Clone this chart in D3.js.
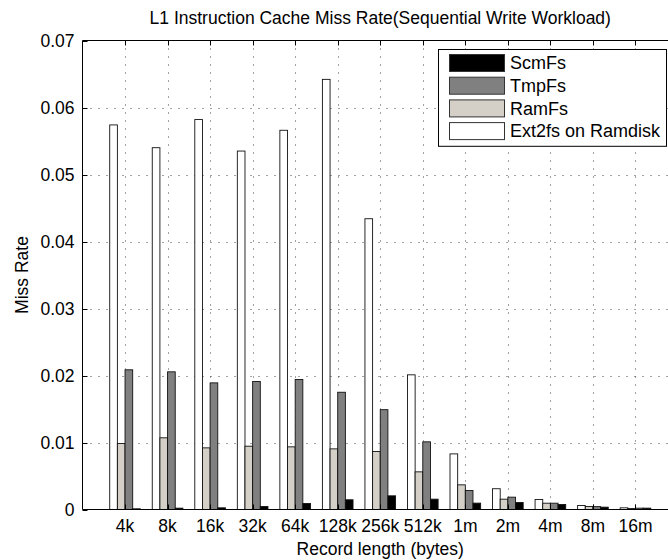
<!DOCTYPE html>
<html><head><meta charset="utf-8">
<script src="https://cdn.jsdelivr.net/npm/d3@7"></script>
<style>body{margin:0;background:#fff}svg{display:block}text{font-family:"Liberation Sans",Arial,sans-serif;fill:#000}</style>
</head><body><svg id="c" width="668" height="560"></svg>
<script>
const categories = ["4k","8k","16k","32k","64k","128k","256k","512k","1m","2m","4m","8m","16m"];
const seriesNames = ["Ext2fs on Ramdisk","RamFs","TmpFs","ScmFs"];
const ext2fs = [0.0574,0.0540,0.0582,0.0535,0.0566,0.0642,0.0434,0.0201,0.0083,0.0031,0.00149,0.00060,0.00025];
const ramfs  = [0.00985,0.0107,0.0092,0.00945,0.00935,0.00905,0.00866,0.00562,0.00368,0.00154,0.00094,0.00045,0.00015];
const tmpfs  = [0.02085,0.02055,0.0189,0.0191,0.0194,0.0175,0.0149,0.0101,0.00283,0.00184,0.00094,0.00043,0.00020];
const scmfs  = [0.0001,0.0002,0.00025,0.00045,0.0009,0.00145,0.00204,0.00154,0.00095,0.00104,0.00075,0.00035,0.00020];
const yTicks = [0,0.01,0.02,0.03,0.04,0.05,0.06,0.07];
const legendOrder = ["ScmFs","TmpFs","RamFs","Ext2fs on Ramdisk"];
const colors = {"ScmFs":"#000000","TmpFs":"#808080","RamFs":"#d4d0c8","Ext2fs on Ramdisk":"#ffffff"};
const seriesData = [ext2fs, ramfs, tmpfs, scmfs];

const svg = d3.select("#c");
const L = 82.5, R = 678, T = 40.5, B = 509.5;
const x = d3.scaleLinear().domain([0, 14]).range([L, R]);
const y = d3.scaleLinear().domain([0, 0.07]).range([B, T]);
const FS = 17.5;
const grid = "#444";

// grid
const g = svg.append("g");
g.selectAll("line.gy").data(yTicks.slice(1, -1)).join("line")
  .attr("x1", L).attr("x2", R).attr("y1", d => Math.round(y(d)) + 0.5).attr("y2", d => Math.round(y(d)) + 0.5)
  .attr("stroke", grid).attr("stroke-width", 1).attr("stroke-dasharray", "1,7");
g.selectAll("line.gx").data(categories).join("line")
  .attr("x1", (d, i) => Math.round(x(i + 1)) + 0.5).attr("x2", (d, i) => Math.round(x(i + 1)) + 0.5)
  .attr("y1", T).attr("y2", B)
  .attr("stroke", grid).attr("stroke-width", 1).attr("stroke-dasharray", "1,7");

// bars
const bw = 0.18;
seriesData.forEach((vals, s) => {
  const name = seriesNames[s];
  svg.append("g").selectAll("rect").data(vals).join("rect")
    .attr("x", (d, i) => x(i + 1 + (s - 1.5) * bw - bw / 2))
    .attr("width", x(bw) - x(0))
    .attr("y", d => y(d))
    .attr("height", d => y(0) - y(d))
    .attr("fill", colors[name])
    .attr("stroke", "#111").attr("stroke-width", 0.9);
});

// axes frame
const ax = svg.append("g");
ax.append("line").attr("x1", L).attr("x2", R).attr("y1", T).attr("y2", T).attr("stroke", "#000");
ax.append("line").attr("x1", L).attr("x2", R).attr("y1", B).attr("y2", B).attr("stroke", "#000");
ax.append("line").attr("x1", L).attr("x2", L).attr("y1", T).attr("y2", B).attr("stroke", "#000");

// ticks
const tl = 5;
ax.selectAll("line.tyl").data(yTicks).join("line")
  .attr("x1", L).attr("x2", L + tl).attr("y1", d => Math.round(y(d)) + 0.5).attr("y2", d => Math.round(y(d)) + 0.5).attr("stroke", "#000");
categories.forEach((c, i) => {
  const xx = Math.round(x(i + 1)) + 0.5;
  ax.append("line").attr("x1", xx).attr("x2", xx).attr("y1", T).attr("y2", T + tl).attr("stroke", "#000");
  ax.append("line").attr("x1", xx).attr("x2", xx).attr("y1", B).attr("y2", B - tl).attr("stroke", "#000");
});

// tick labels
ax.selectAll("text.yl").data(yTicks).join("text")
  .attr("x", L - 8).attr("y", d => y(d)).attr("dy", "0.35em")
  .attr("text-anchor", "end").attr("font-size", FS)
  .text(d => d === 0 ? "0" : d3.format(".2f")(d));
ax.selectAll("text.xl").data(categories).join("text")
  .attr("x", (d, i) => x(i + 1)).attr("y", B + 22)
  .attr("text-anchor", "middle").attr("font-size", FS)
  .text(d => d);

// labels
svg.append("text").attr("x", (L + R) / 2).attr("y", 555).attr("text-anchor", "middle").attr("font-size", FS).text("Record length (bytes)");
svg.append("text").attr("transform", `translate(28,${(T + B) / 2}) rotate(-90)`).attr("text-anchor", "middle").attr("font-size", FS).text("Miss Rate");
svg.append("text").attr("x", (L + R) / 2).attr("y", 24).attr("text-anchor", "middle").attr("font-size", FS).text("L1 Instruction Cache Miss Rate(Sequential Write Workload)");

// legend
const lg = svg.append("g");
const lx = 438.5, ly = 49.5, rowH = 22.7;
lg.append("rect").attr("x", lx).attr("y", ly).attr("width", 228).attr("height", 4 * rowH + 6)
  .attr("fill", "#fff").attr("stroke", "#000");
legendOrder.forEach((n, i) => {
  const ry = ly + 5 + i * rowH;
  lg.append("rect").attr("x", 449.5).attr("y", ry).attr("width", 55).attr("height", 17)
    .attr("fill", colors[n]).attr("stroke", "#333");
  lg.append("text").attr("x", 510).attr("y", ry + 8.5).attr("dy", "0.35em").attr("font-size", 18).text(n);
});
</script></body></html>
